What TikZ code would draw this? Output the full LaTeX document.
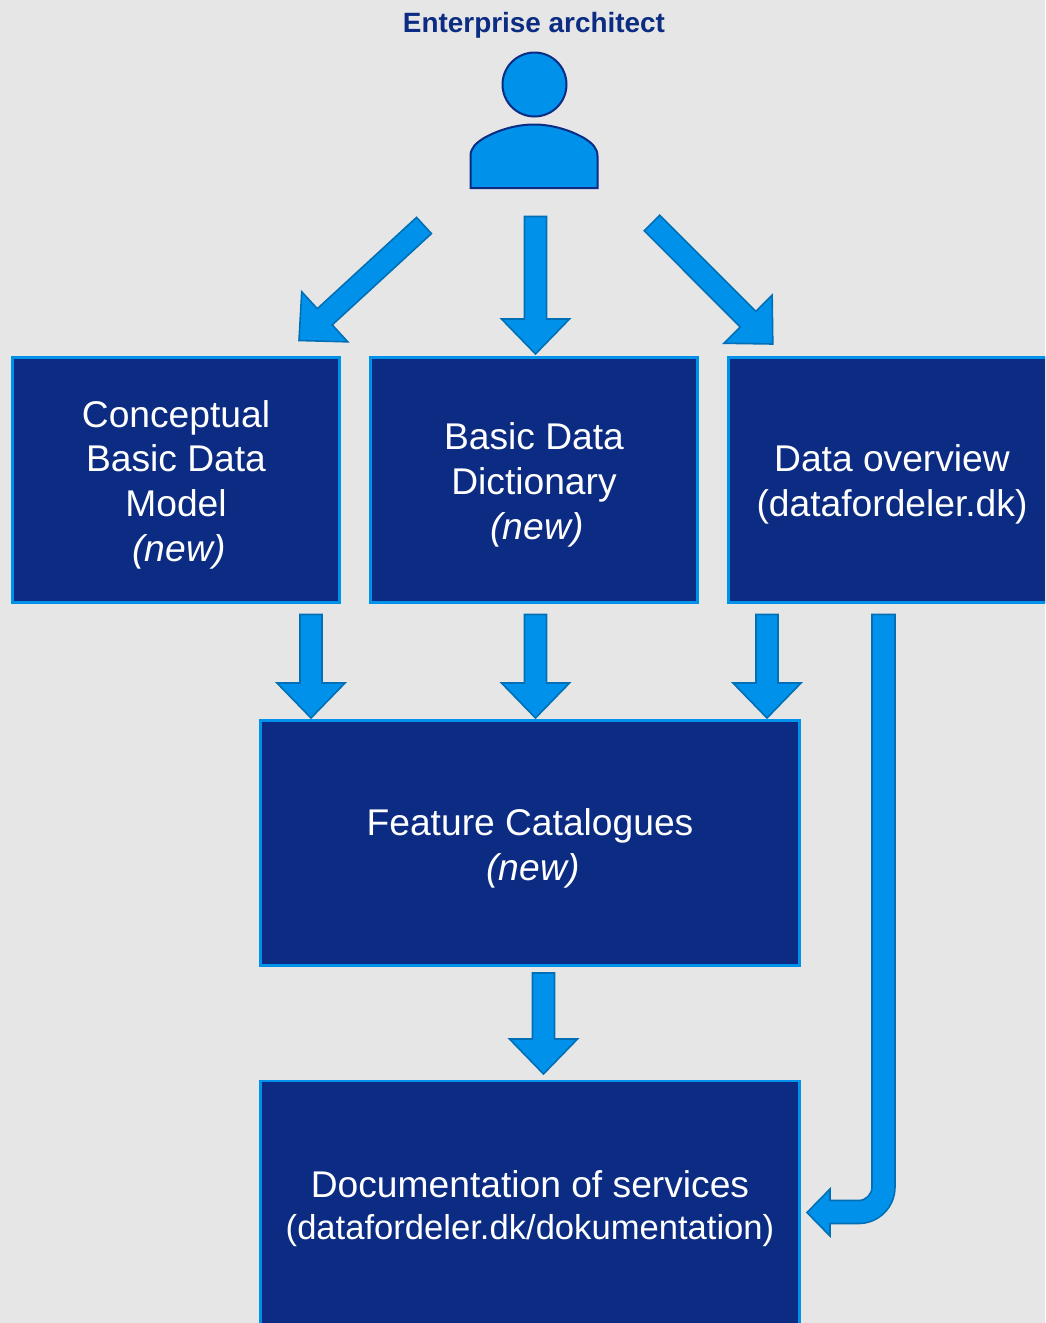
\documentclass[tikz,border=0pt]{standalone}
\usepackage{fontspec}
\setmainfont{Liberation Sans}
\usetikzlibrary{calc}
\definecolor{bg}{HTML}{E6E6E6}
\definecolor{navy}{HTML}{0B2C82}
\definecolor{sky}{HTML}{0091EA}
\definecolor{skyline}{HTML}{006FB5}
\tikzset{
  box/.style={draw=sky,fill=navy,line width=2.6pt,inner sep=0pt,minimum height=245.5pt},
  boxtext/.style={text=white,align=center,inner sep=0pt,yshift=-4.5pt},
  blockarrow/.style={draw=skyline,fill=sky,line width=1.6pt,line join=miter},
  persona/.style={draw=navy,fill=sky,line width=2pt},
}
% \blockarrow{tail}{tip}: shaft half width 11, head half width 34, head length 35
\newcommand{\blockarrow}[2]{%
  \coordinate (hb) at ($(#2)!35pt!(#1)$);
  \draw[blockarrow]
    ($(#1)!11pt!90:(#2)$) -- ($(hb)!11pt!-90:(#1)$) -- ($(hb)!34pt!-90:(#1)$) -- (#2)
    -- ($(hb)!34pt!90:(#1)$) -- ($(hb)!11pt!90:(#1)$) -- ($(#1)!11pt!-90:(#2)$) -- cycle;
}
\newcommand{\newtag}{\hspace*{6pt}\textit{(new)}}
\begin{document}
\begin{tikzpicture}[x=1pt,y=-1pt]
\useasboundingbox (0,0) rectangle (1045,1323);
\clip (0,0) rectangle (1045,1323);
\fill[bg] (0,0) rectangle (1045,1323);

\node[text=navy,font=\bfseries\fontsize{27.9}{32}\selectfont] (title) at (534,25) {Enterprise architect};
\node[persona,circle,minimum size=64pt,inner sep=0pt] (head) at (534.5,84.5) {};
\draw[persona] (470.5,188) -- (470.5,156) .. controls (470.5,148) and (476,143) .. (484,138)
  .. controls (500,129) and (518,124.5) .. (534,124.5)
  .. controls (550,124.5) and (568,129) .. (584,138)
  .. controls (592,143) and (597.5,148) .. (597.5,156) -- (597.5,188) -- cycle;

\node[box,minimum width=327pt,label={[boxtext,font=\fontsize{37.2}{44.7}\selectfont]center:{Conceptual\\Basic Data\\Model\\\newtag}}] (cbdm) at (176,480) {};
\node[box,minimum width=327pt,label={[boxtext,font=\fontsize{37.2}{45}\selectfont]center:{Basic Data\\Dictionary\\\newtag}}] (bdd) at (534,480) {};
\node[box,minimum width=327pt,label={[boxtext,font=\fontsize{37.2}{44.5}\selectfont]center:{Data overview\\(datafordeler.dk)}}] (overview) at (892,480) {};
\node[box,minimum width=539pt,label={[boxtext,yshift=-1pt,font=\fontsize{37.2}{45}\selectfont]center:{Feature Catalogues\\\newtag}}] (fc) at (530,843) {};
\node[box,minimum width=539pt,minimum height=250pt,label={[boxtext,yshift=2pt,font=\fontsize{37.2}{42.2}\selectfont]center:{Documentation of services\\\fontsize{34.6}{42.2}\selectfont(datafordeler.dk/dokumentation)}}] (doc) at (530,1206) {};

\coordinate (a1s) at (424,225.5);
\coordinate (a1e) at (299,340.5);
\coordinate (a2s) at (535.5,216.5);
\coordinate (a2e) at (535.5,354);
\coordinate (a3s) at (652,223);
\coordinate (a3e) at (772.8,344);
\blockarrow{a1s}{a1e}
\blockarrow{a2s}{a2e}
\blockarrow{a3s}{a3e}

\coordinate (b1s) at (311,614.5);
\coordinate (b1e) at (311,718);
\coordinate (b2s) at (535.5,614.5);
\coordinate (b2e) at (535.5,718);
\coordinate (b3s) at (767,614.5);
\coordinate (b3e) at (767,718);
\blockarrow{b1s}{b1e}
\blockarrow{b2s}{b2e}
\blockarrow{b3s}{b3e}

\coordinate (c1s) at (543.5,973);
\coordinate (c1e) at (543.5,1074);
\blockarrow{c1s}{c1e}

\coordinate (d1s) at (883.5,614.5);
\coordinate (d1e) at (807,1212.5);
\draw[blockarrow] ($(d1s)+(-11.5,0)$) -- (872,1187) arc[start angle=0,end angle=90,radius=13.5]
  -- (830,1200.5) -- (830,1189) -- (d1e) -- (830,1236) -- (830,1223.5) -- (858.5,1223.5)
  arc[start angle=90,end angle=0,radius=36.5] -- ($(d1s)+(11.5,0)$) -- cycle;
\end{tikzpicture}
\end{document}
